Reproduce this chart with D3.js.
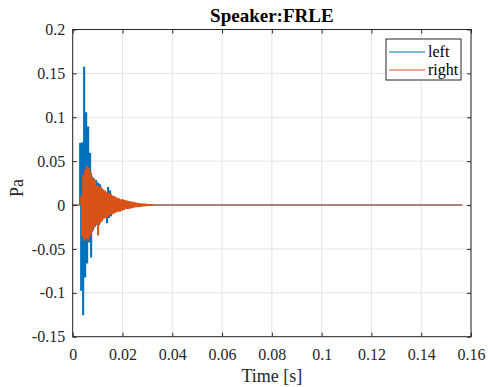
<!DOCTYPE html>
<html>
<head>
<meta charset="utf-8">
<script src="https://cdn.jsdelivr.net/npm/d3@7"></script>
<style>
  body { margin: 0; background: #fff; }
  svg { display: block; }
  svg text { font-family: "Liberation Serif", "Times New Roman", serif; }
  .tick text { fill: #262626; font-size: 16px; }
</style>
</head>
<body>
<div class="container"></div>
<script>
const WIDTH = 488;
const HEIGHT = 387;
const LEFT = 72.7, RIGHT = 471, TOP = 29.5, BOTTOM = 336.7;

// samples of the impulse response (Pa)
const sampleStart = 0.0030;   // s, first non-zero sample
const sampleStep = 0.0004;    // s between read samples
const signalEnd = 0.1565;     // s, last sample of recording

const leftPa = [
    0.070, -0.097, 0.071, -0.125, 0.157, -0.082, 0.105, -0.066, 0.089, -0.042,
    0.059, -0.059, 0.032, -0.028, 0.030, -0.024, 0.028, -0.020, 0.025, -0.022,
    0.023, -0.016, 0.018, -0.015, 0.014, -0.013, 0.013, -0.020, 0.020, -0.014,
    0.016, -0.012, 0.010, -0.008, 0.009, -0.007, 0.007, -0.006, 0.005, -0.005,
    0.004, -0.004, 0.003, -0.003, 0.003, -0.002, 0.002, -0.002, 0.0015, -0.001,
    0.001, -0.001, 0.0005
];
const rightPa = [
    0.002, 0.010, -0.035, 0.033, -0.040, 0.040, -0.038, 0.044, -0.040, 0.042,
    -0.035, 0.036, -0.030, 0.030, -0.025, 0.028, -0.022, 0.022, -0.034, 0.021,
    -0.020, 0.020, -0.018, 0.017, -0.015, 0.016, -0.014, 0.014, -0.013, 0.013,
    -0.011, 0.012, -0.010, 0.010, -0.009, 0.009, -0.008, 0.008, -0.007, 0.007,
    -0.007, 0.006, -0.006, 0.006, -0.005, 0.005, -0.004, 0.0045, -0.004, 0.004,
    -0.0035, 0.0035, -0.003, 0.003, -0.0025, 0.0025, -0.002, 0.002, -0.002, 0.0018,
    -0.0015, 0.0015, -0.0012, 0.0012, -0.001, 0.001, -0.0008, 0.0008, -0.0006, 0.0006,
    -0.0005, 0.0005, -0.0003, 0.0003, -0.0002
];

const xTicks = [0, 0.02, 0.04, 0.06, 0.08, 0.1, 0.12, 0.14, 0.16];
const yTicks = [-0.15, -0.1, -0.05, 0, 0.05, 0.1, 0.15, 0.2];
const seriesNames = ["left", "right"];
const seriesColors = ["#0072BD", "#D95319"];

var toPoints = function(values) {
    var pts = [[0, 0], [sampleStart - sampleStep, 0]];
    values.forEach(function(v, i) {
        pts.push([sampleStart + i * sampleStep, v]);
    });
    pts.push([sampleStart + values.length * sampleStep, 0]);
    pts.push([signalEnd, 0]);
    return pts;
};

var fmt = (d) => d === 0 ? "0" : String(+d.toFixed(2));

var svg = d3.select('.container').append('svg')
    .attr('width', WIDTH)
    .attr('height', HEIGHT);

svg.append('rect').attr('width', WIDTH).attr('height', HEIGHT).attr('fill', '#fff');

let xScale = d3.scaleLinear().domain([0, 0.16]).range([LEFT, RIGHT]);
let yScale = d3.scaleLinear().domain([-0.15, 0.2]).range([BOTTOM, TOP]);

// grid
var grid = svg.append('g').attr('stroke', '#e3e3e3').attr('stroke-width', 1);
grid.selectAll('.gx').data(xTicks).enter().append('line')
    .attr('x1', d => xScale(d)).attr('x2', d => xScale(d))
    .attr('y1', TOP).attr('y2', BOTTOM);
grid.selectAll('.gy').data(yTicks).enter().append('line')
    .attr('x1', LEFT).attr('x2', RIGHT)
    .attr('y1', d => yScale(d)).attr('y2', d => yScale(d));

// signals, drawn as steps so the dense oscillation reads as a solid band
var line = d3.line()
    .x(([t, v]) => xScale(t))
    .y(([t, v]) => yScale(v))
    .curve(d3.curveStep);

[leftPa, rightPa].forEach(function(values, k) {
    svg.append('path')
        .attr('d', line(toPoints(values)))
        .attr('fill', 'none')
        .attr('stroke', seriesColors[k])
        .attr('stroke-width', 1.1);
});

// axes with inward ticks
var styleAxis = function(g) {
    g.attr('font-family', null).attr('font-size', null);
    g.select('.domain').remove();
    g.selectAll('.tick line').attr('stroke', '#262626');
};

svg.append('g')
    .attr('transform', `translate(0,${BOTTOM})`)
    .call(d3.axisBottom(xScale).tickValues(xTicks).tickFormat(fmt)
        .tickSizeInner(-4).tickSizeOuter(0).tickPadding(12))
    .call(styleAxis);
svg.append('g')
    .attr('transform', `translate(0,${TOP})`)
    .call(d3.axisTop(xScale).tickValues(xTicks).tickFormat('')
        .tickSizeInner(-4).tickSizeOuter(0))
    .call(styleAxis);
svg.append('g')
    .attr('transform', `translate(${LEFT},0)`)
    .call(d3.axisLeft(yScale).tickValues(yTicks).tickFormat(fmt)
        .tickSizeInner(-4).tickSizeOuter(0).tickPadding(7.5))
    .call(styleAxis);
svg.append('g')
    .attr('transform', `translate(${RIGHT},0)`)
    .call(d3.axisRight(yScale).tickValues(yTicks).tickFormat('')
        .tickSizeInner(-4).tickSizeOuter(0))
    .call(styleAxis);

// box
svg.append('rect')
    .attr('x', LEFT).attr('y', TOP)
    .attr('width', RIGHT - LEFT).attr('height', BOTTOM - TOP)
    .attr('fill', 'none').attr('stroke', '#262626').attr('stroke-width', 1);

// title and labels
svg.append('text')
    .attr('x', (LEFT + RIGHT) / 2).attr('y', 21.5)
    .attr('text-anchor', 'middle')
    .attr('font-weight', 'bold').attr('font-size', 19)
    .attr('fill', '#000')
    .text('Speaker:FRLE');

svg.append('text')
    .attr('x', (LEFT + RIGHT) / 2).attr('y', 382)
    .attr('text-anchor', 'middle')
    .attr('font-size', 18).attr('fill', '#262626')
    .text('Time [s]');

svg.append('text')
    .attr('transform', `translate(23,${(TOP + BOTTOM) / 2 + 5}) rotate(-90)`)
    .attr('text-anchor', 'middle')
    .attr('font-size', 18).attr('fill', '#262626')
    .text('Pa');

// legend
var legend = svg.append('g');
legend.append('rect')
    .attr('x', 386).attr('y', 39).attr('width', 75).attr('height', 41)
    .attr('fill', '#fff').attr('stroke', '#262626').attr('stroke-width', 1);
seriesNames.forEach(function(name, i) {
    var y = 52 + i * 18;
    legend.append('line')
        .attr('x1', 389).attr('x2', 425).attr('y1', y).attr('y2', y)
        .attr('stroke', seriesColors[i]).attr('stroke-width', 1);
    legend.append('text')
        .attr('x', 428).attr('y', y + 5)
        .attr('font-size', 16).attr('fill', '#000')
        .text(name);
});
</script>
</body>
</html>
